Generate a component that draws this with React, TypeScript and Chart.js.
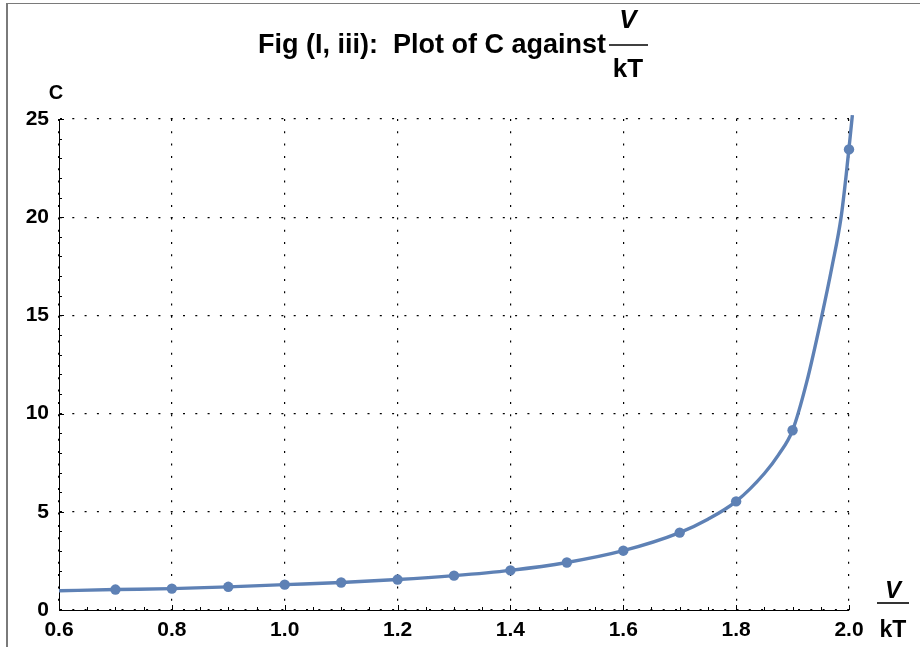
import React, { useEffect, useRef } from "react";
import { Chart, registerables } from "chart.js";

Chart.register(...registerables);

// Computed points of C at each V/kT
const xMarks = [0.7, 0.8, 0.9, 1.0, 1.1, 1.2, 1.3, 1.4, 1.5, 1.6, 1.7, 1.8, 1.9, 2.0];
const cMarks = [1.04, 1.09, 1.18, 1.29, 1.4, 1.55, 1.75, 2.02, 2.42, 3.02, 3.94, 5.53, 9.15, 23.45];

// Samples along the continuous curve C(V/kT); it runs a little past the top of the frame
const curveX = [0.6, 0.7, 0.8, 0.9, 1.0, 1.1, 1.2, 1.3, 1.4, 1.5, 1.6, 1.7, 1.75, 1.8, 1.85, 1.875, 1.9, 1.925, 1.952, 1.97, 1.986, 1.995, 2.006];
const curveC = [0.98, 1.04, 1.09, 1.18, 1.29, 1.4, 1.55, 1.75, 2.02, 2.42, 3.02, 3.94, 4.62, 5.53, 6.95, 7.9, 9.15, 11.6, 15.0, 17.5, 20.0, 22.15, 25.2];

// Axis ranges and tick steps
const xRange = [0.6, 2.0];
const yRange = [0, 25];
const xMajorStep = 0.2;
const xMinorStep = 0.05;
const yMajorStep = 5;
const yMinorStep = 1;

const titleText = "Fig (I, iii):  Plot of C against";
const fracTop = "V";
const fracBottom = "kT";
const yName = "C";

const BLUE = "#5e81b5";
const FONT = "'Liberation Sans', Arial, sans-serif";

const isMultiple = (v: number, step: number) => {
  const r = v / step;
  return Math.abs(r - Math.round(r)) < 1e-6;
};

const decorations = {
  id: "decorations",
  beforeDatasetsDraw(chart: any) {
    const { ctx, chartArea: a, scales } = chart;
    const x = scales.x;
    const y = scales.y;
    ctx.save();
    ctx.strokeStyle = "#000";
    ctx.lineWidth = 1;
    ctx.beginPath();
    // inward tick marks on the bottom axis
    const nx = Math.round((xRange[1] - xRange[0]) / xMinorStep);
    for (let i = 0; i <= nx; i++) {
      const v = xRange[0] + i * xMinorStep;
      const len = isMultiple(v, xMajorStep) ? 5 : 3;
      const px = Math.round(x.getPixelForValue(v)) + 0.5;
      ctx.moveTo(px, a.bottom);
      ctx.lineTo(px, a.bottom - len);
    }
    // inward tick marks on the left axis
    const ny = Math.round((yRange[1] - yRange[0]) / yMinorStep);
    for (let i = 0; i <= ny; i++) {
      const v = yRange[0] + i * yMinorStep;
      const len = isMultiple(v, yMajorStep) ? 5 : 3;
      const py = Math.round(y.getPixelForValue(v)) + 0.5;
      ctx.moveTo(a.left, py);
      ctx.lineTo(a.left + len, py);
    }
    ctx.stroke();
    ctx.restore();
  },
  afterDraw(chart: any) {
    const { ctx } = chart;
    ctx.save();
    ctx.fillStyle = "#000";
    ctx.strokeStyle = "#000";
    ctx.textBaseline = "middle";

    // title with a stacked fraction
    ctx.font = `bold 27px ${FONT}`;
    ctx.textAlign = "right";
    ctx.fillText(titleText, 606, 46);
    const fx = 628;
    ctx.textAlign = "center";
    ctx.font = `italic bold 26px ${FONT}`;
    ctx.fillText(fracTop, fx, 21);
    ctx.font = `bold 26px ${FONT}`;
    ctx.fillText(fracBottom, fx, 70);
    ctx.lineWidth = 1.6;
    ctx.beginPath();
    ctx.moveTo(609, 45);
    ctx.lineTo(648, 45);
    ctx.stroke();

    // vertical axis name
    ctx.font = `bold 20px ${FONT}`;
    ctx.fillText(yName, 56, 93);

    // horizontal axis name (fraction)
    const ax = 893;
    ctx.font = `italic bold 24px ${FONT}`;
    ctx.fillText(fracTop, ax, 591);
    ctx.font = `bold 23px ${FONT}`;
    ctx.fillText(fracBottom, ax, 631);
    ctx.lineWidth = 1.6;
    ctx.beginPath();
    ctx.moveTo(877, 603);
    ctx.lineTo(909, 603);
    ctx.stroke();
    ctx.restore();
  },
};

export default function App() {
  const ref = useRef<HTMLCanvasElement>(null);

  useEffect(() => {
    const canvas = ref.current;
    if (!canvas) return;
    const tickFont = { family: FONT, size: 21, weight: "bold" as const };
    const chart = new Chart(canvas, {
      type: "scatter",
      data: {
        datasets: [
          {
            label: "C",
            data: xMarks.map((v, i) => ({ x: v, y: cMarks[i] })),
            backgroundColor: BLUE,
            borderColor: BLUE,
            borderWidth: 0,
            pointRadius: 5.2,
            clip: false,
            order: 0,
          } as any,
          {
            label: "curve",
            data: curveX.map((v, i) => ({ x: v, y: curveC[i] })),
            showLine: true,
            borderColor: BLUE,
            borderWidth: 3.4,
            pointRadius: 0,
            cubicInterpolationMode: "monotone",
            clip: false,
            order: 1,
          } as any,
        ],
      },
      options: {
        responsive: false,
        animation: false,
        devicePixelRatio: 1,
        layout: { padding: { left: 9, right: 71, top: 119, bottom: 7 } },
        plugins: {
          legend: { display: false },
          tooltip: { enabled: false },
          title: { display: false },
        },
        scales: {
          x: {
            type: "linear",
            min: xRange[0],
            max: xRange[1],
            afterFit: (s: any) => {
              s.height = 30;
            },
            ticks: {
              stepSize: xMajorStep,
              autoSkip: false,
              maxRotation: 0,
              padding: 8,
              color: "#000",
              font: tickFont,
              callback: (v: any) => Number(v).toFixed(1),
            },
            grid: { color: "#000", lineWidth: 1.2, drawTicks: false },
            border: { display: true, color: "#000", width: 1, dash: [2, 10.3] },
          },
          y: {
            type: "linear",
            min: yRange[0],
            max: yRange[1],
            afterFit: (s: any) => {
              s.width = 50;
            },
            ticks: {
              stepSize: yMajorStep,
              padding: 10,
              color: "#000",
              font: tickFont,
            },
            grid: { color: "#000", lineWidth: 1.2, drawTicks: false },
            border: { display: true, color: "#000", width: 1, dash: [2, 10.3] },
          },
        },
      },
      plugins: [decorations],
    });
    return () => chart.destroy();
  }, []);

  return (
    <div style={{ position: "fixed", left: 0, top: 0, width: 920, height: 647, background: "#fff" }}>
      <div
        style={{
          position: "absolute",
          left: 6,
          top: 3,
          right: 0,
          bottom: 0,
          borderTop: "1px solid #7a7a7a",
          borderLeft: "2px solid #7a7a7a",
        }}
      />
      <canvas ref={ref} width={920} height={647} style={{ position: "absolute", left: 0, top: 0 }} />
    </div>
  );
}
